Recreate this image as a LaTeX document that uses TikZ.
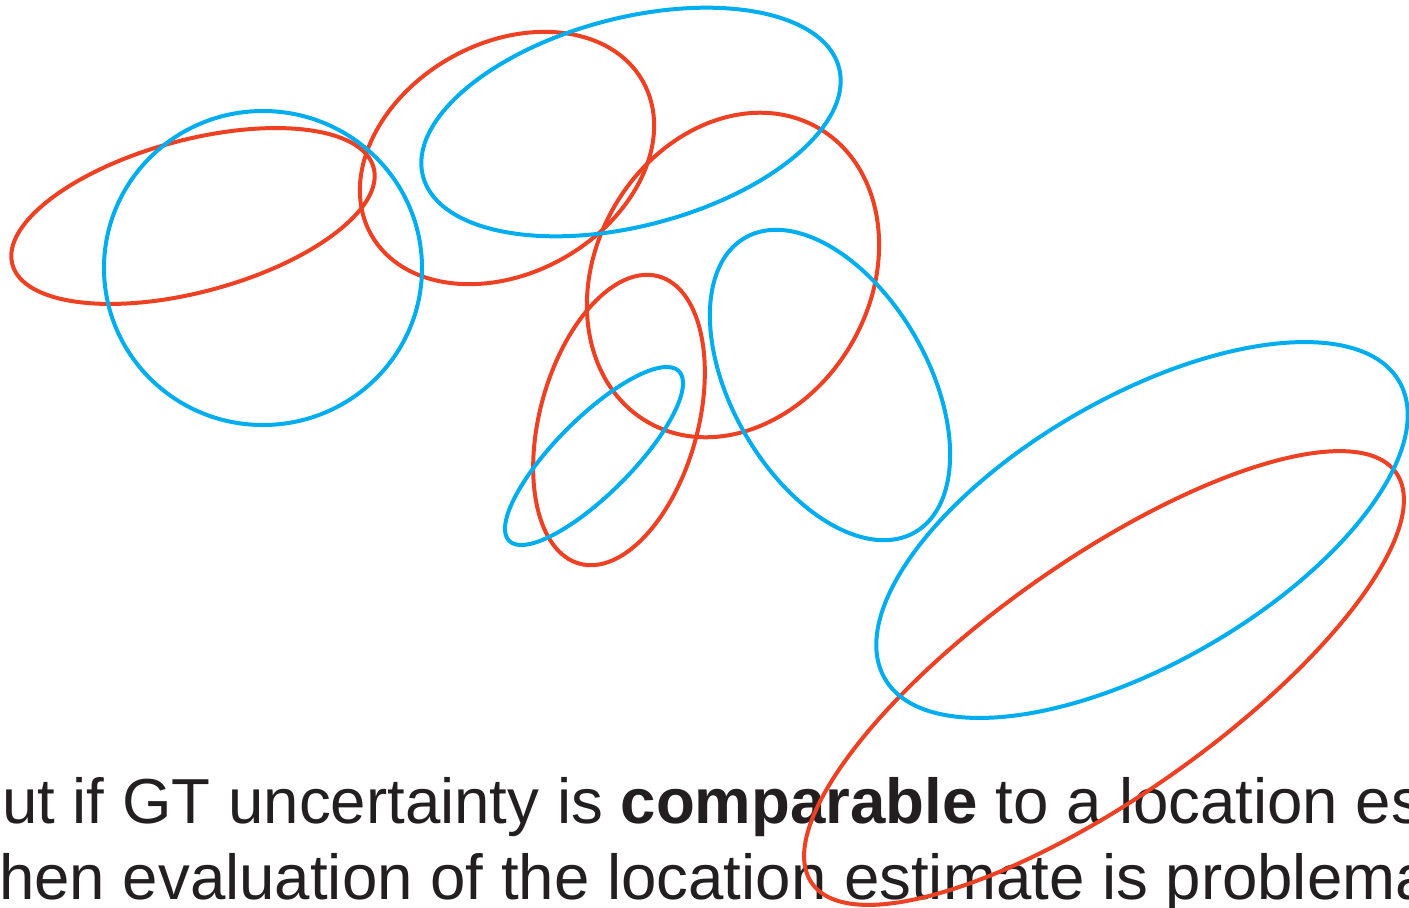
\documentclass[tikz,border=0pt]{standalone}
\usepackage{fontspec}
\setmainfont{Liberation Sans}
\definecolor{ered}{HTML}{EE4023}
\definecolor{eblue}{HTML}{00AEEF}
\definecolor{etext}{HTML}{231F20}
\begin{document}
\begin{tikzpicture}[x=1pt,y=-1pt,
  redell/.style={draw=ered,line width=4pt},
  blueell/.style={draw=eblue,line width=4pt},
  txt/.style={anchor=base west,inner sep=0pt,text=etext,font=\fontsize{63.6}{77}\selectfont}]
\useasboundingbox (0,0) rectangle (1409,908);
\clip (0,0) rectangle (1409,908);
\node[txt] (line1) at (2,823) {ut if GT uncertainty is \textbf{comparable} to a location es};
\node[txt] (line2) at (-1,899) {hen evaluation of the location estimate is problema};
% red ellipses
\draw[redell,rotate around={15:(193,216)}] (193,216) ellipse [x radius=187pt,y radius=76pt];
\draw[redell,rotate around={29.5:(507,158)}] (507,158) ellipse [x radius=156pt,y radius=115pt];
\draw[redell,rotate around={59.7:(733,275)}] (733,275) ellipse [x radius=170pt,y radius=137pt];
\draw[redell,rotate around={74.6:(619,420)}] (619,420) ellipse [x radius=149pt,y radius=79pt];
\draw[redell,rotate around={35.1:(1104,678)}] (1104,678) ellipse [x radius=357pt,y radius=118pt];
% blue ellipses
\draw[blueell] (263,268) ellipse [x radius=159pt,y radius=157pt];
\draw[blueell,rotate around={14.6:(631,122)}] (631,122) ellipse [x radius=215pt,y radius=104pt];
\draw[blueell,rotate around={45:(594,456)}] (594,456) ellipse [x radius=120pt,y radius=38pt];
\draw[blueell,rotate around={-60:(830,385)}] (830,385) ellipse [x radius=170pt,y radius=98pt];
\draw[blueell,rotate around={30:(1142,530)}] (1142,530) ellipse [x radius=297pt,y radius=133pt];
\end{tikzpicture}
\end{document}
